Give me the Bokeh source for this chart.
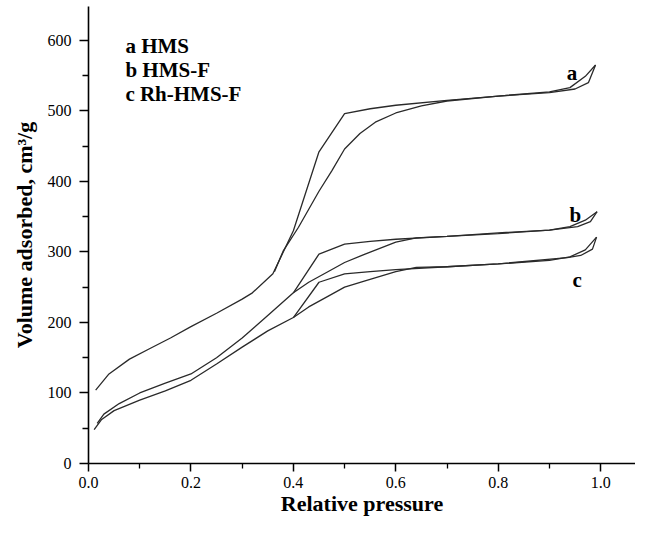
from bokeh.plotting import figure
from bokeh.models import FixedTicker, PrintfTickFormatter, Range1d
from bokeh.core.properties import value
from bokeh.embed import file_html
from bokeh.resources import INLINE

# ---- data ----
# sample a: HMS
a_up_x = [0.014, 0.04, 0.08, 0.12, 0.16, 0.2, 0.25, 0.3, 0.32, 0.36, 0.4, 0.45, 0.5, 0.55, 0.6, 0.7, 0.8, 0.9, 0.94, 0.97, 0.99]
a_up_y = [104, 127, 148, 163, 178, 194, 213, 233, 242, 269, 330, 442, 496, 503, 508, 515, 521, 527, 533, 549, 565]
a_dn_x = [0.99, 0.976, 0.95, 0.9, 0.8, 0.7, 0.65, 0.6, 0.56, 0.53, 0.5, 0.475, 0.45, 0.41, 0.38, 0.363]
a_dn_y = [565, 540, 531, 526, 521, 514, 507, 497, 484, 468, 446, 415, 386, 335, 301, 272]

# sample b: HMS-F
b_up_x = [0.017, 0.03, 0.06, 0.1, 0.15, 0.2, 0.25, 0.3, 0.35, 0.4, 0.45, 0.5, 0.55, 0.6, 0.7, 0.8, 0.9, 0.94, 0.97, 0.993]
b_up_y = [57, 70, 85, 100, 114, 127, 150, 178, 210, 242, 297, 311, 315, 318, 322, 327, 331, 336, 345, 357]
b_dn_x = [0.993, 0.98, 0.955, 0.9, 0.8, 0.7, 0.64, 0.6, 0.54, 0.5, 0.47, 0.43, 0.4]
b_dn_y = [357, 343, 336, 331, 326, 322, 320, 314, 297, 285, 273, 257, 242]

# sample c: Rh-HMS-F
c_up_x = [0.011, 0.025, 0.05, 0.1, 0.15, 0.2, 0.25, 0.3, 0.35, 0.4, 0.45, 0.5, 0.55, 0.6, 0.7, 0.8, 0.9, 0.94, 0.97, 0.992]
c_up_y = [48, 62, 75, 90, 103, 118, 141, 165, 188, 207, 257, 269, 272, 275, 279, 283, 288, 293, 303, 321]
c_dn_x = [0.992, 0.984, 0.961, 0.935, 0.8, 0.7, 0.64, 0.6, 0.54, 0.5, 0.47, 0.43, 0.4]
c_dn_y = [321, 304, 295, 292, 283, 279, 278, 272, 259, 250, 238, 222, 207]

legend_lines = ["a HMS", "b HMS-F", "c Rh-HMS-F"]
legend_x = [0.072, 0.072, 0.072]
legend_y = [592, 558, 524]

curve_labels = ["a", "b", "c"]
curve_label_x = [0.934, 0.939, 0.945]
curve_label_y = [554, 352, 260]

x_major = [0.0, 0.2, 0.4, 0.6, 0.8, 1.0]
x_minor = [0.1, 0.3, 0.5, 0.7, 0.9]
y_major = [0, 100, 200, 300, 400, 500, 600]
y_minor = [50, 150, 250, 350, 450, 550]

x_title = "Relative pressure"
y_title = "Volume adsorbed, cm\u00b3/g"

# ---- figure ----
p = figure(width=635, height=518, output_backend="svg", toolbar_location=None,
           x_range=Range1d(0, 1.068), y_range=Range1d(0, 648),
           min_border_left=88, min_border_top=6, min_border_right=0, min_border_bottom=40)
p.outline_line_color = None
p.xgrid.visible = False
p.ygrid.visible = False
p.background_fill_color = "white"
p.border_fill_color = "white"

line_col = "#2a2a2a"
for xs, ys in [(a_up_x, a_up_y), (a_dn_x, a_dn_y), (b_up_x, b_up_y), (b_dn_x, b_dn_y),
               (c_up_x, c_up_y), (c_dn_x, c_dn_y)]:
    p.line(xs, ys, line_color=line_col, line_width=1.3)

p.text(x=legend_x, y=legend_y, text=legend_lines, text_font=value("Liberation Serif"),
       text_font_style="bold", text_font_size="21px", text_color="black",
       text_baseline="alphabetic", text_align="left")
p.text(x=curve_label_x, y=curve_label_y, text=curve_labels, text_font=value("Liberation Serif"),
       text_font_style="bold", text_font_size="21px", text_color="black",
       text_baseline="alphabetic", text_align="left")

for ax in (p.xaxis[0], p.yaxis[0]):
    ax.axis_line_color = "black"
    ax.axis_line_width = 1.6
    ax.major_tick_line_color = "black"
    ax.major_tick_line_width = 1.5
    ax.minor_tick_line_color = "black"
    ax.minor_tick_line_width = 1.3
    ax.major_tick_in = 0
    ax.minor_tick_in = 0
    ax.major_label_text_font = "Liberation Serif"
    ax.major_label_text_font_size = "16px"
    ax.major_label_text_color = "black"
    ax.axis_label_text_font = "Liberation Serif"
    ax.axis_label_text_font_style = "bold"
    ax.axis_label_text_font_size = "22px"
    ax.axis_label_text_color = "black"

p.xaxis.ticker = FixedTicker(ticks=x_major, minor_ticks=x_minor)
p.yaxis.ticker = FixedTicker(ticks=y_major, minor_ticks=y_minor)
p.xaxis.formatter = PrintfTickFormatter(format="%.1f")
p.yaxis.formatter = PrintfTickFormatter(format="%d")
p.xaxis.major_tick_out = 8
p.xaxis.minor_tick_out = 5
p.yaxis.major_tick_out = 9
p.yaxis.minor_tick_out = 6
p.xaxis.major_label_standoff = 5
p.yaxis.major_label_standoff = 8
p.xaxis.axis_label_standoff = 0
p.yaxis.axis_label_standoff = 8
p.xaxis.axis_label = x_title
p.yaxis.axis_label = y_title

open("out.html", "w").write(file_html(p, INLINE))
